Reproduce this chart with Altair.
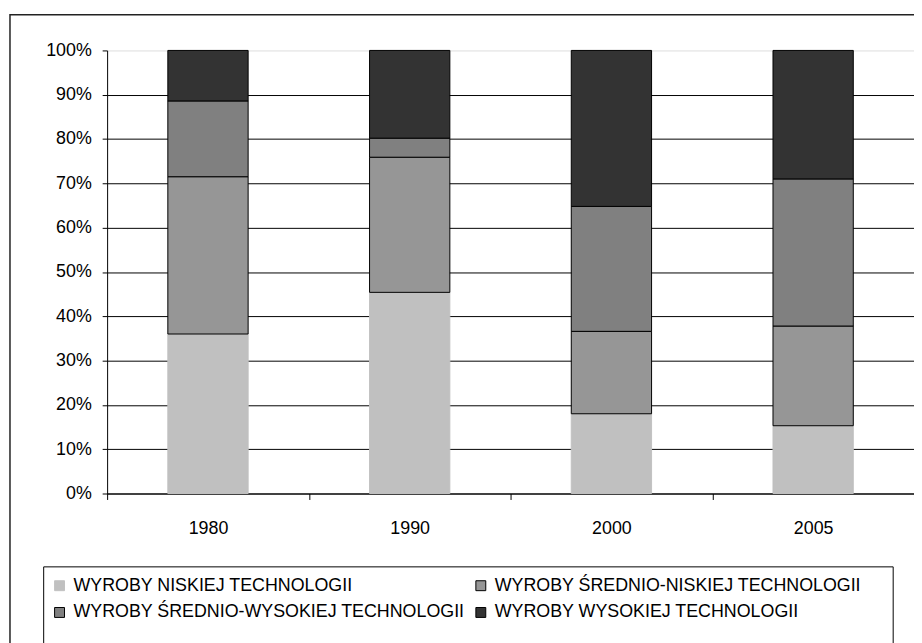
import altair as alt
import pandas as pd

years = ["1980", "1990", "2000", "2005"]
categories = [
    "WYROBY NISKIEJ TECHNOLOGII",
    "WYROBY ŚREDNIO-NISKIEJ TECHNOLOGII",
    "WYROBY ŚREDNIO-WYSOKIEJ TECHNOLOGII",
    "WYROBY WYSOKIEJ TECHNOLOGII",
]
low = [36.0, 45.4, 18.0, 15.3]
mid_low = [35.5, 30.5, 18.6, 22.5]
mid_high = [17.1, 4.3, 28.2, 33.2]
high = [11.4, 19.8, 35.2, 29.0]

fills = ["#C0C0C0", "#969696", "#808080", "#333333"]
strokes = ["#C0C0C0", "#000000", "#000000", "#000000"]

rows = []
for i, y in enumerate(years):
    for k, (cat, series) in enumerate(zip(categories, [low, mid_low, mid_high, high])):
        rows.append({"year": y, "cat": cat, "value": series[i], "ord": k})
df = pd.DataFrame(rows)

FONT = "'Liberation Sans', Arial, sans-serif"
FS = 18

legend = alt.Legend(
    orient="none", legendX=-57, legendY=531, direction="horizontal", columns=2,
    symbolType="square", symbolSize=100, symbolStrokeWidth=1,
    labelFont=FONT, labelFontSize=FS, labelColor="#000000", labelLimit=600,
    title=None, padding=0, rowPadding=9, columnPadding=6, labelOffset=5,
)

bars = alt.Chart(df).mark_bar(size=81, strokeWidth=1).encode(
    x=alt.X("year:N", sort=years,
            scale=alt.Scale(paddingInner=0, paddingOuter=0),
            axis=alt.Axis(title=None, labelAngle=0, tickBand="extent", tickSize=6,
                          labelPadding=20, domainColor="#000000", tickColor="#000000",
                          grid=False, labelFont=FONT, labelFontSize=FS,
                          labelColor="#000000")),
    y=alt.Y("value:Q", stack="normalize",
            scale=alt.Scale(domain=[0, 1], nice=False),
            axis=alt.Axis(title=None, format=".0%", values=[i / 10 for i in range(11)],
                          tickSize=5, labelPadding=11, domainColor="#000000",
                          tickColor="#000000",
                          gridColor={"condition": {"test": "datum.value >= 0.999", "value": "#dddddd"},
                                     "value": "#000000"},
                          gridWidth=1, labelFont=FONT, labelFontSize=FS,
                          labelColor="#000000")),
    fill=alt.Fill("cat:N", scale=alt.Scale(domain=categories, range=fills), legend=legend),
    stroke=alt.Stroke("cat:N", scale=alt.Scale(domain=categories, range=strokes), legend=legend),
    order=alt.Order("ord:Q", sort="ascending"),
)

frame_df = pd.DataFrame({"k": [0]})
outer = alt.Chart(frame_df).mark_rect(fill=None, stroke="#222222", strokeWidth=1.5).encode(
    x=alt.value(-98), x2=alt.value(830), y=alt.value(-36), y2=alt.value(640)
)
legend_box = alt.Chart(frame_df).mark_rect(fill=None, stroke="#000000", strokeWidth=1).encode(
    x=alt.value(-64), x2=alt.value(793), y=alt.value(521), y2=alt.value(640)
)

chart = alt.layer(outer, legend_box, bars).properties(
    width=814, height=447,
    autosize=alt.AutoSizeParams(type="none"),
    padding={"left": 100, "top": 40, "right": 0, "bottom": 148},
).configure_view(stroke=None)

chart.save("out.html", embed_options={"renderer": "svg", "actions": False})
